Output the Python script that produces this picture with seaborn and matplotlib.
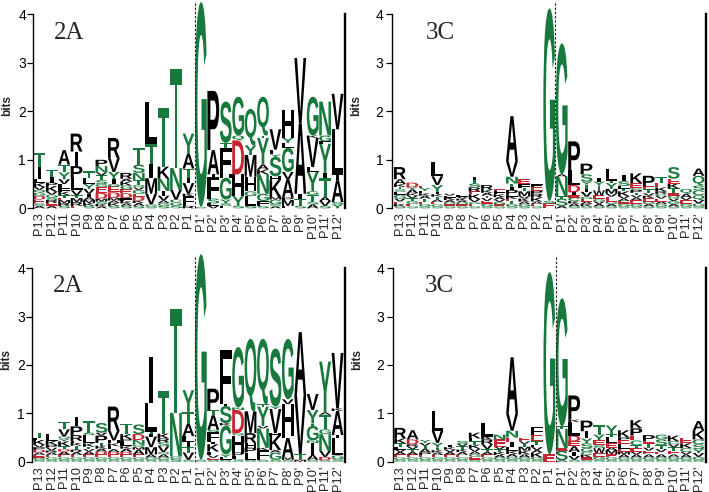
import matplotlib
matplotlib.use("Agg")
import matplotlib.pyplot as plt
import seaborn as sns
from matplotlib.textpath import TextPath
from matplotlib.font_manager import FontProperties
from matplotlib.patches import PathPatch
from matplotlib.transforms import Affine2D

# ---------------- data ----------------
positions = ["P13", "P12", "P11", "P10", "P9", "P8", "P7", "P6", "P5", "P4", "P3", "P2", "P1",
             "P1'", "P2'", "P3'", "P4'", "P5'", "P6'", "P7'", "P8'", "P9'", "P10'", "P11'", "P12'"]
yticks = [0, 1, 2, 3, 4]
panel_titles = ["2A", "3C", "2A", "3C"]

# each entry: letters stacked bottom -> top, number = height in 1/100 bits
logo_2A_top = [
    "A5 S5 E8 D8 G6 Q6 V6 K8 L8 I25 T30",
    "A5 E6 R6 S5 G6 V6 K12 P7 I12 T15",
    "S5 R6 M6 E4 T6 K7 F6 L10 V10 Y14 T16 A30",
    "E5 R8 M8 T6 V10 L25 P25 I30 R37",
    "S5 K6 M6 A6 I7 V10 Y10 L12 T14",
    "A4 K5 S5 M6 D12 E12 G6 S8 T10 V6 N13 P13",
    "S5 K6 A5 M5 D12 E12 G5 I10 Y15 V28 R42",
    "S5 A5 K5 F6 D10 E8 G8 K8 A6 R12",
    "S5 A6 K5 D8 E6 G8 V5 Q5 T10 N15 S17 T35",
    "S4 G4 V22 M32 I30 T40 L87",
    "S5 G6 A5 V10 I10 N25 K25 T120",
    "S6 G6 C6 V20 N45 T205",
    "R5 F20 K5 V22 I10 T20 A30 Y42",
    "S3 G422",
    "V5 L5 S10 F45 I5 A50 P122",
    "L5 S5 Y8 G45 H7 F55 T10 S85",
    "S5 Y20 H45 D70 Q10 G80",
    "S5 L20 G10 H30 M45 Y20 Q75",
    "S5 F10 G15 N40 K10 A10 Y55 T5 Q80",
    "A4 S4 G10 M5 K35 H8 S40 Y5 L10 V42",
    "F5 M12 P5 A38 V15 G50 L10 Y10 H58",
    "S5 T15 I10 A145 V135",
    "A8 S5 T15 G7 Y40 L10 V60 K5 G80",
    "S5 V10 A8 T40 I10 Y60 F5 G12 N70",
    "Y8 S5 A45 I10 L95 V73",
]

logo_3C_top = [
    "S4 K5 E5 V6 G8 L6 S5 T5 K6 A10 R25",
    "S4 E5 G6 T6 V5 K5 A8 Y4 D10",
    "S4 G5 E5 T6 A6 K5 L5 Y6 E5",
    "S4 G4 E5 A5 T6 K5 I5 Y14 V18 L30",
    "S4 E4 G4 A5 K5 L4 V4",
    "S4 E4 G4 A4 K4 V4 L4",
    "S4 E5 G4 V6 K10 E6 R8 S8 T8 I6",
    "S4 G5 E6 V6 T5 A6 K6 R10",
    "S4 E4 G5 V5 A5 K6 F7 E3",
    "S4 G5 T6 E4 K5 L4 P10 I5 T8 N14 V32 A93",
    "S4 G5 A5 K6 V5 M10 T7 F8 E10",
    "S4 E5 A5 K8 R8 P6 E8 F6",
    "E10 S5 G397",
    "A5 S15 T5 N40 A5 G270",
    "S4 A6 K5 C7 E5 I6 D15 L30 P60",
    "S4 K5 A5 E5 G5 V10 I5 T10 Y6 S15 P22",
    "S4 A5 V5 G5 E8 W10 T10 Y8 I7",
    "S4 A5 G5 E10 V6 M10 Y12 T5 L25",
    "S4 G5 E6 A5 V5 K10 T5 L6 S10 I12",
    "S4 G5 E8 A5 V5 T5 P6 C4 E10 K20",
    "S4 A5 G5 E7 K5 V5 T8 E6 P22",
    "S4 G5 A5 E6 V5 C5 R5 K8 E10 T12",
    "S4 A5 G6 V5 Q6 E5 T10 K10 E10 S24",
    "S4 G5 E8 V5 A8 Q10",
    "S4 G6 V7 Q10 C10 S10 Q20 A15",
]

logo_2A_bottom = [
    "S4 G4 E6 A5 D6 P5 V5 K10 L5 T10",
    "S4 G5 E5 A5 R4 V6 P6 K8 L14",
    "S4 G5 E6 A6 D5 T6 K10 Y5 Q5 V15 T15",
    "S4 G5 E5 A6 R5 T8 K6 L4 R12 P18 I20",
    "S4 G5 E6 A6 V5 T5 K7 L17 S5 T25",
    "S4 G5 E6 D6 A6 K6 T6 P15 V6 S20",
    "S4 G5 E6 D5 A6 L6 K6 H6 V20 R50",
    "S4 G5 E6 D5 A7 K5 L10 P5 K10 T22",
    "S4 G5 E6 A10 M5 Q5 N10 D12 S20",
    "S4 G5 A6 M15 V22 I5 T5 L60 I95",
    "S4 G5 A6 Q5 V12 S8 R8 K10 T89",
    "S6 G5 N90 T215",
    "S4 V15 T12 I10 L12 A25 T25 Y45",
    "S4 G425",
    "S4 E4 V5 L8 K15 I5 F20 S5 A30 T10 P45",
    "S4 L5 Y6 G60 K5 S35 I5 F110",
    "S5 L7 P7 H35 Q5 D48 N5 G125",
    "S4 L15 P10 H10 R20 M45 Q150",
    "S4 F20 K5 N40 V5 Y40 T5 Q135",
    "S4 G15 A5 K30 H5 V50 Y5 S120",
    "S4 M5 A40 F5 H65 V10 G125",
    "M4 T12 V120 A132",
    "S4 A10 I25 N5 G30 T5 Y28 V33",
    "S3 D7 V12 N35 G10 T30 A5 Y105",
    "S5 G8 L37 I5 A50 K5 V115",
]

logo_3C_bottom = [
    "S4 G5 E6 A5 V5 L5 T8 K10 R22",
    "S4 G5 E6 A5 T6 V5 R5 D10 A19",
    "S4 G5 E5 P5 A8 T6 V6 Y6",
    "S4 G5 E5 A5 K5 T5 Y10 V25 L40",
    "S4 G5 E6 A5 V5 K5 I5",
    "S4 G5 E5 A6 K5 T7 V5 S6",
    "S4 E6 G6 A5 V6 K8 T7 L6 K12",
    "S4 G5 E6 A5 T6 V10 R10 K6 L28",
    "S4 G5 A5 K6 T6 V5 E15 N10",
    "S4 G6 A6 K6 L8 I10 E10 N14 V35 A117",
    "S4 G5 A6 K8 M8 T6 V5 E8",
    "S4 G5 K10 A5 V6 L5 T8 E12 F17",
    "E15 G377",
    "A3 S20 E5 N40 T5 G265",
    "S4 V8 I8 A12 E10 D12 L28 K5 P50",
    "S4 E5 K6 C5 G8 S10 Y10 I15 P22",
    "S4 G6 E8 W10 S6 E10 Y12 T19",
    "S4 G5 E7 M8 A5 E10 L12 T6 Y18",
    "S4 G5 A6 M6 E6 L10 E8 P5 K15",
    "S4 G5 A6 V5 E8 T6 C10 E10 P15 K17",
    "S4 G5 A6 E8 V6 T8 E6 P12",
    "S4 G5 A6 E5 V6 T8 S12 G10",
    "S4 G6 A5 E8 T7 V6 C6 K12",
    "S4 G5 A6 V5 C8 K10 E12",
    "S4 G6 V8 Y8 S10 C10 K18 A20",
]

panels = [logo_2A_top, logo_3C_top, logo_2A_bottom, logo_3C_bottom]

# ---------------- style ----------------
sns.set_theme(style="white")
plt.rcParams["font.family"] = ["Liberation Sans", "DejaVu Sans"]

GREEN = "#177a3c"
RED = "#c62630"
BLACK = "#000000"
green_set = set("GSTYCNQ")
red_set = set("DE")


def letter_color(ch):
    if ch in green_set:
        return GREEN
    if ch in red_set:
        return RED
    return BLACK


FP = FontProperties(family="Liberation Sans", weight="bold")
_cache = {}


def glyph(ch):
    if ch not in _cache:
        _cache[ch] = TextPath((0, 0), ch, size=100, prop=FP)
    return _cache[ch]


def draw_letter(ax, ch, x, y0, h, w):
    p = glyph(ch)
    bb = p.get_extents()
    wid = w * (0.3 if ch == "I" else 1.0)
    tr = (Affine2D().translate(-bb.x0, -bb.y0)
          .scale(wid / bb.width, h / bb.height)
          .translate(x - wid / 2, y0))
    ax.add_patch(PathPatch(tr.transform_path(p), fc=letter_color(ch), ec="none",
                           lw=0, clip_on=False, zorder=2))


def parse(entry):
    out = []
    for tok in entry.split():
        out.append((tok[0], float(tok[1:]) / 100.0))
    return out


fig = plt.figure(figsize=(7.09, 4.92), dpi=100)
W, H = 709.0, 492.0
# pixel boxes: left, right, y0(bottom px), y4(top px), xleft-limit, title x, label x, tick pad
boxes = [
    (33, 345, 208.3, 14.3, -0.51, 1.13, -0.062, 1.0),
    (392, 706, 208.3, 14.3, -0.64, 2.1, -0.094, 2.2),
    (32, 345, 461.7, 268.3, -0.58, 1.13, -0.062, 1.0),
    (393, 706, 461.7, 268.3, -0.58, 2.0, -0.094, 2.2),
]

for k, (data, box) in enumerate(zip(panels, boxes)):
    l, r, yb, yt, xl, tx, lx, pad = box
    ax = fig.add_axes([l / W, 1 - yb / H, (r - l) / W, (yb - yt) / H])
    ax.set_facecolor("white")
    ax.set_xlim(xl, 24.6)
    ax.set_ylim(0, 4)
    for i, entry in enumerate(data):
        y = 0.0
        for ch, h in parse(entry):
            draw_letter(ax, ch, i, y, h, 0.95)
            y += h
    ax.plot([12.5, 12.5], [0, 4.28], ls=(0, (2.2, 1.6)), color="#222222",
            lw=0.8, clip_on=False, zorder=3)
    sns.despine(ax=ax, top=True, bottom=True, right=False, left=False)
    ax.spines["left"].set_bounds(0, 4)
    ax.spines["left"].set_linewidth(1.0)
    ax.spines["left"].set_color("black")
    ax.spines["right"].set_bounds(0, 4)
    ax.spines["right"].set_linewidth(1.7)
    ax.spines["right"].set_color("black")
    ax.set_yticks(yticks)
    ax.set_yticklabels([str(v) for v in yticks], fontsize=10)
    ax.tick_params(axis="y", left=True, length=4, width=0.9, pad=pad, colors="black")
    ax.set_xticks(range(len(positions)))
    ax.set_xticklabels(positions, rotation=90, fontsize=9.3)
    ax.tick_params(axis="x", bottom=False, length=0, pad=3)
    ax.set_ylabel("bits", fontsize=8.5, fontweight="bold")
    ax.yaxis.set_label_coords(lx, 0.53)
    ax.text(tx, 3.5, panel_titles[k], family="Liberation Serif", fontsize=18,
            ha="left", va="baseline", zorder=4)
    ax.grid(False)

fig.savefig("out.png", dpi=100)
